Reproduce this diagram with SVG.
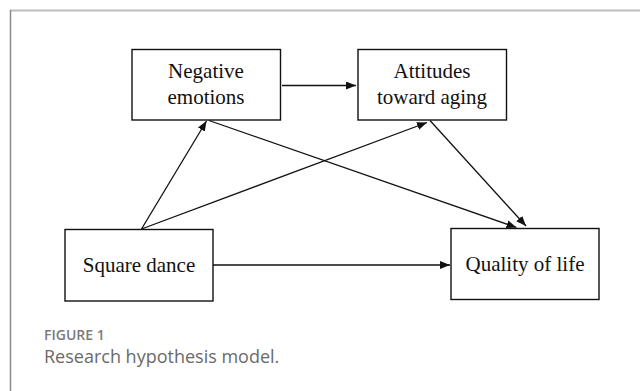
<svg xmlns="http://www.w3.org/2000/svg" width="640" height="391" viewBox="0 0 640 391">
<style>
.box{fill:#fff;stroke:#111;stroke-width:1.4}
.lbl{font-family:"Liberation Serif","Times New Roman",serif;font-size:21px;fill:#111;text-anchor:middle}
.edge{stroke:#111;stroke-width:1.3;fill:none;marker-end:url(#ah)}
.cap1{font-family:"Open Sans","Liberation Sans",sans-serif;font-size:14px;font-weight:600;fill:#7a7a7a}
.cap2{font-family:"Open Sans","Liberation Sans",sans-serif;font-size:18px;fill:#6a6a6a}
</style>
<defs>
<marker id="ah" viewBox="0 0 10 8" refX="10" refY="4" markerWidth="10" markerHeight="8" markerUnits="userSpaceOnUse" orient="auto">
<path d="M0,0 L10,4 L0,8 Z" fill="#111"/>
</marker>
</defs>
<rect width="640" height="391" fill="#fff"/>
<g id="frame">
<line x1="10" y1="10.5" x2="640" y2="10.5" stroke="#bdbdbd" stroke-width="2"/>
<line x1="10.5" y1="10" x2="10.5" y2="391" stroke="#8a8a8a" stroke-width="1.5"/>
</g>
<g id="connectors">
<line class="edge" x1="282" y1="85.5" x2="356" y2="85.5"/>
<line class="edge" x1="213" y1="265" x2="450" y2="265"/>
<line class="edge" x1="141.5" y1="229" x2="206.5" y2="121"/>
<line class="edge" x1="141.5" y1="229" x2="427" y2="122.5"/>
<line class="edge" x1="209" y1="120.5" x2="516.5" y2="227.5"/>
<line class="edge" x1="430" y1="120.5" x2="526" y2="226"/>
</g>
<g id="n-negative">
<rect class="box" x="132" y="49.5" width="148.5" height="70.5"/>
<text class="lbl" x="206" y="78">Negative</text>
<text class="lbl" x="206" y="104">emotions</text>
</g>
<g id="n-attitudes">
<rect class="box" x="358" y="49.5" width="148.5" height="70.5"/>
<text class="lbl" x="432" y="78">Attitudes</text>
<text class="lbl" x="432" y="104">toward aging</text>
</g>
<g id="n-square">
<rect class="box" x="65" y="229.5" width="148" height="71.5"/>
<text class="lbl" x="139" y="272">Square dance</text>
</g>
<g id="n-quality">
<rect class="box" x="451" y="228.5" width="148" height="71"/>
<text class="lbl" x="525" y="271">Quality of life</text>
</g>
<g id="caption">
<text class="cap1" x="44" y="340">FIGURE 1</text>
<text class="cap2" x="44" y="363">Research hypothesis model.</text>
</g>
</svg>
